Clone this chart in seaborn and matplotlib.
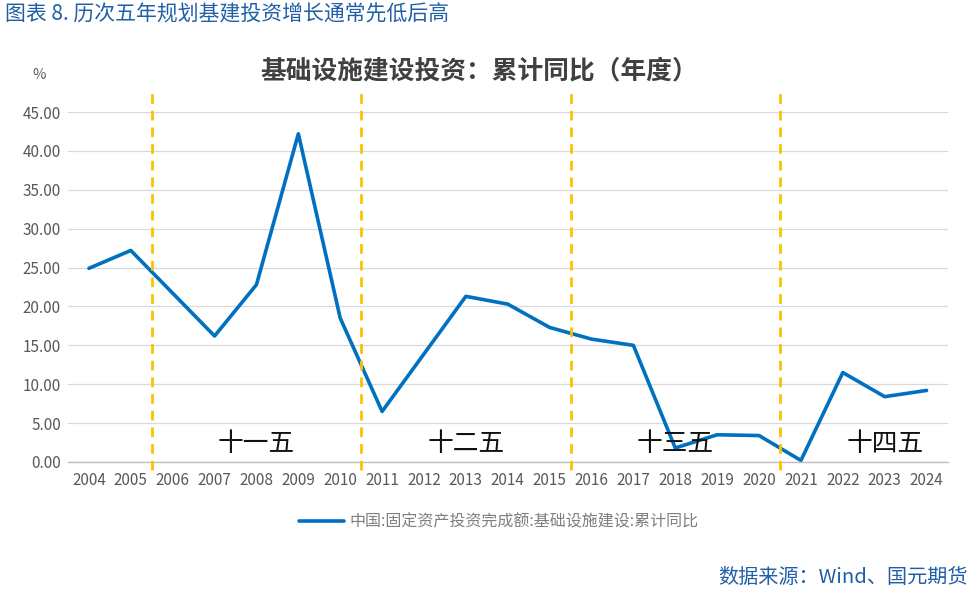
import matplotlib
matplotlib.use("Agg")
import matplotlib.pyplot as plt
from matplotlib.ticker import FixedLocator, FormatStrFormatter
import seaborn as sns
import pandas as pd

# 数据
years = [str(y) for y in range(2004, 2025)]
growth = [24.9, 27.2, 21.7, 16.2, 22.8, 42.2, 18.5, 6.5, 13.9, 21.3, 20.3,
          17.3, 15.8, 15.0, 1.8, 3.5, 3.4, 0.2, 11.5, 8.4, 9.2]
plan_names = ["十一五", "十二五", "十三五", "十四五"]
plan_center = ["2008", "2013", "2018", "2023"]
plan_start = ["2006", "2011", "2016", "2021"]

sns.set_theme(style="white")
plt.rcParams["font.family"] = ["Noto Sans CJK SC", "DejaVu Sans"]

df = pd.DataFrame({"year": years, "growth": growth})

fig = plt.figure(figsize=(9.74, 5.92), dpi=100)
ax = fig.add_axes([0.0698, 0.2196, 0.903, 0.5912])

line_label = "中国:固定资产投资完成额:基础设施建设:累计同比"
sns.lineplot(data=df, x="year", y="growth", ax=ax, color="#0070C0",
             linewidth=2.6, label=line_label)

ax.set_xlim(-0.5, len(years) - 0.5)
ax.set_ylim(0, 45)
ax.set_yticks([i * 5 for i in range(10)])
ax.yaxis.set_major_formatter(FormatStrFormatter("%.2f"))
ax.grid(axis="y", color="#D9D9D9", linewidth=0.9)
ax.set_axisbelow(True)
ax.set_xlabel("")
ax.set_ylabel("")

for s in ["top", "right", "left"]:
    ax.spines[s].set_visible(False)
ax.spines["bottom"].set_color("#BFBFBF")
ax.spines["bottom"].set_linewidth(1.0)

ax.tick_params(axis="both", which="major", length=0, labelsize=11,
               labelcolor="#595959", pad=5)
ax.xaxis.set_minor_locator(FixedLocator([i - 0.5 for i in range(len(years) + 1)]))
ax.tick_params(axis="x", which="minor", length=5, color="#BFBFBF", width=1.0)
ax.tick_params(axis="x", which="major", pad=7)

# 五年规划分界线
for name, start, center in zip(plan_names, plan_start, plan_center):
    xs = years.index(start) - 0.5
    ax.plot([xs, xs], [-1.0, 47.8], linestyle=(0, (3.5, 2.5)), color="#FFC000",
            linewidth=2.0, clip_on=False, zorder=3)
    ax.text(years.index(center), 2.3, name, ha="center", va="center",
            fontsize=18.5, color="#111111", fontweight="medium")

ax.text(-0.033, 1.107, "%", transform=ax.transAxes, fontsize=10.5,
        color="#595959", ha="center", va="center")

leg = ax.legend(loc="upper center", bbox_to_anchor=(0.49, -0.105), frameon=False,
                fontsize=11.5, handlelength=2.8, handletextpad=0.4)
for t in leg.get_texts():
    t.set_color("#7F7F7F")

fig.text(0.492, 0.88, "基础设施建设投资：累计同比（年度）", ha="center", va="center",
         fontsize=18.5, fontweight="bold", color="#404040")
fig.text(0.005, 0.975, "图表 8. 历次五年规划基建投资增长通常先低后高", ha="left",
         va="center", fontsize=15, color="#1F5FA8")
fig.text(0.994, 0.025, "数据来源：Wind、国元期货", ha="right", va="center",
         fontsize=14.5, color="#1F5FA8")

fig.savefig("out.png", dpi=100)
